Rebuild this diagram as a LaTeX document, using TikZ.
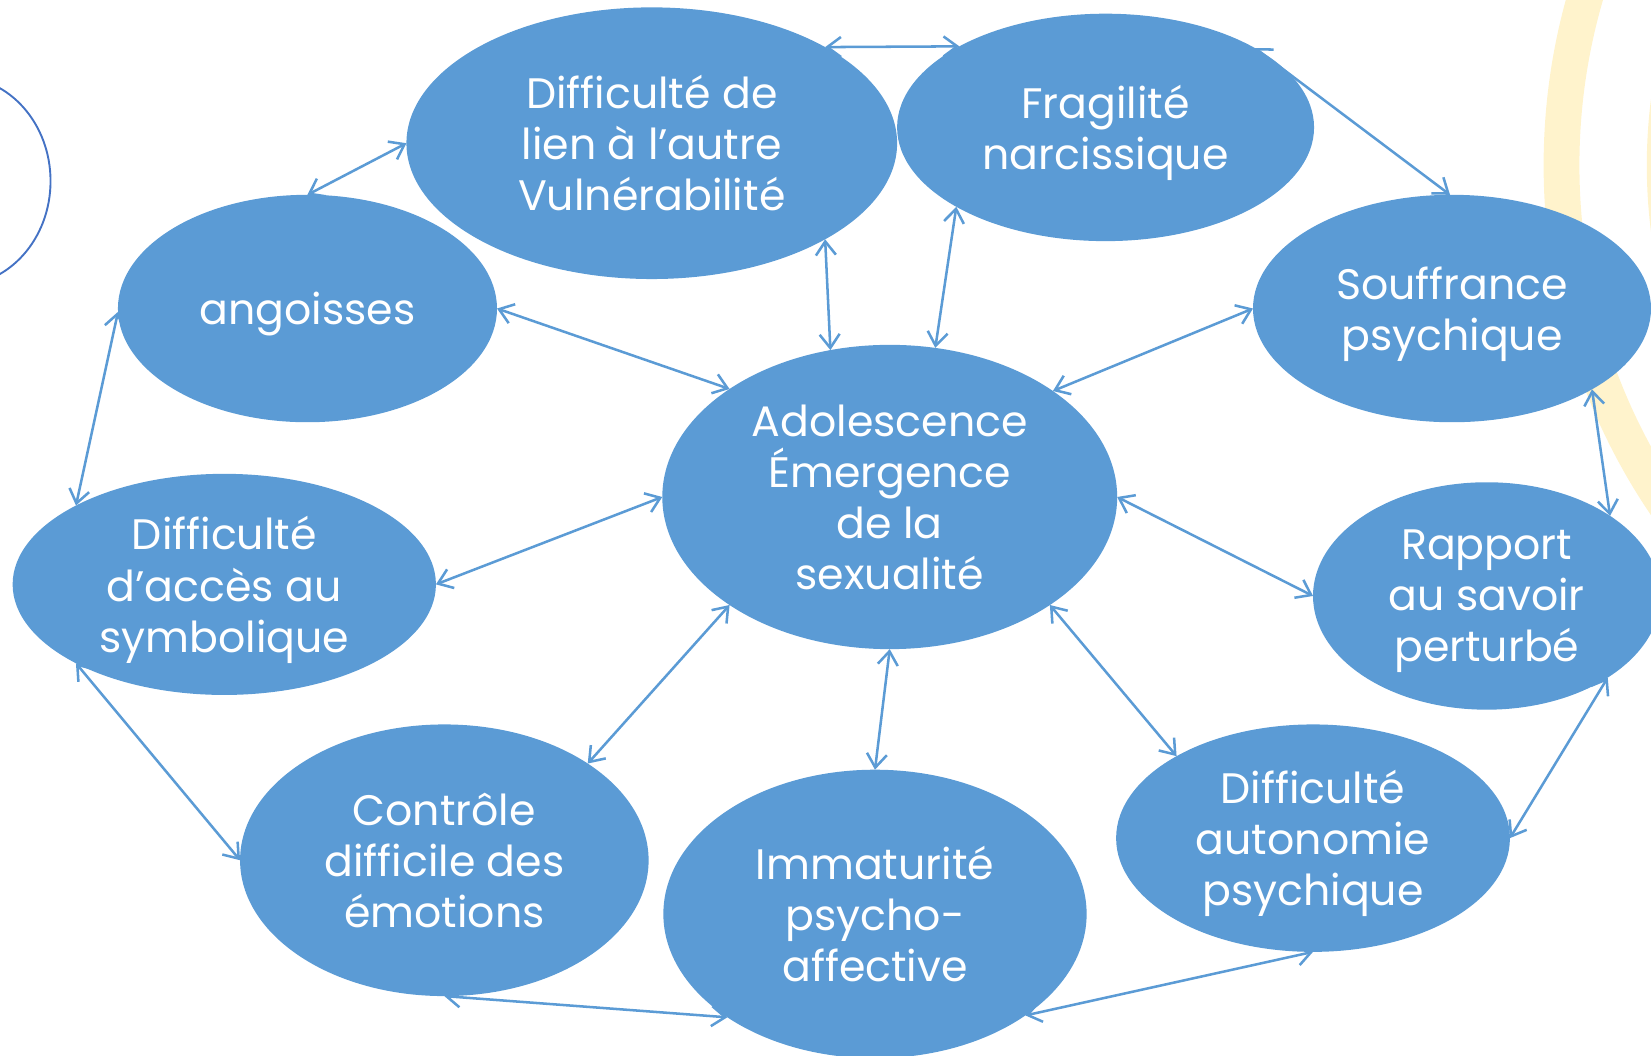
\documentclass[tikz,border=0pt]{standalone}
\usepackage{fontspec}
\setmainfont{Poppins}
\usetikzlibrary{arrows.meta,shapes.geometric}
\definecolor{ell}{HTML}{5B9BD5}
\definecolor{arcblue}{HTML}{4472C4}
\definecolor{pale}{HTML}{FFF3CC}
\begin{document}
\begin{tikzpicture}[x=1pt,y=-1pt,
  bub/.style={ellipse, fill=ell, text=white, inner sep=0pt, outer sep=0pt, align=center, text depth=0pt, font=\fontsize{40.5}{48.5}\selectfont},
  link/.style={draw=ell, line width=2.4pt, line cap=round, line join=round, {Straight Barb[length=13pt,width=19pt]}-{Straight Barb[length=13pt,width=19pt]}}]
\useasboundingbox (0,0) rectangle (1568,1002);
\begin{scope}
\clip (0,0) rectangle (1568,1002);
\draw[pale, line width=34pt] (2058,157) circle (575pt);
\draw[pale, line width=34pt] (2058,157) circle (477pt);
\draw[arcblue, line width=1.8pt] (-40,172) ellipse [x radius=88pt, y radius=99pt];
\end{scope}
\node[bub, minimum width=466pt, minimum height=258pt] (lien) at (619,136) {Difficulté de\\lien à l’autre\\Vulnérabilité};
\node[bub, minimum width=396pt, minimum height=216pt] (frag) at (1050,121) {Fragilité\\narcissique};
\node[bub, minimum width=378pt, minimum height=216pt] (souff) at (1379,293) {Souffrance\\psychique};
\node[bub, minimum width=360pt, minimum height=216pt] (ang) at (292,293) {angoisses};
\node[bub, minimum width=432pt, minimum height=289pt] (ado) at (845,472) {Adolescence\\Émergence\\de la\\sexualité};
\node[bub, minimum width=402pt, minimum height=210pt] (symb) at (213,555) {Difficulté\\d’accès au\\symbolique};
\node[bub, minimum width=330pt, minimum height=216pt] (rapp) at (1412,566) {Rapport\\au savoir\\perturbé};
\node[bub, minimum width=388pt, minimum height=258pt] (contr) at (422,817) {Contrôle\\difficile des\\émotions};
\node[bub, minimum width=402pt, minimum height=274pt] (immat) at (831,868) {Immaturité\\psycho-\\affective};
\node[bub, minimum width=374pt, minimum height=216pt] (auton) at (1247,796) {Difficulté\\autonomie\\psychique};
\draw[link] (ang.90) -- (lien.180);
\draw[link] (lien.29) -- (frag.151);
\draw[link] (frag.28) -- (souff.91);
\draw[link] (lien.331) -- (ado.112);
\draw[link] (frag.208) -- (ado.73);
\draw[link] (ang.0) -- (ado.146);
\draw[link] (souff.180) -- (ado.33);
\draw[link] (ang.181) -- (symb.152);
\draw[link] (souff.330) -- (rapp.33);
\draw[link] (symb.0) -- (ado.180);
\draw[link] (ado.0) -- (rapp.180);
\draw[link] (symb.208) -- (contr.180);
\draw[link] (ado.214) -- (contr.34);
\draw[link] (ado.270) -- (immat.90);
\draw[link] (ado.326) -- (auton.149);
\draw[link] (rapp.326) -- (auton.0);
\draw[link] (contr.270) -- (immat.215);
\draw[link] (immat.326) -- (auton.270);
\end{tikzpicture}
\end{document}
